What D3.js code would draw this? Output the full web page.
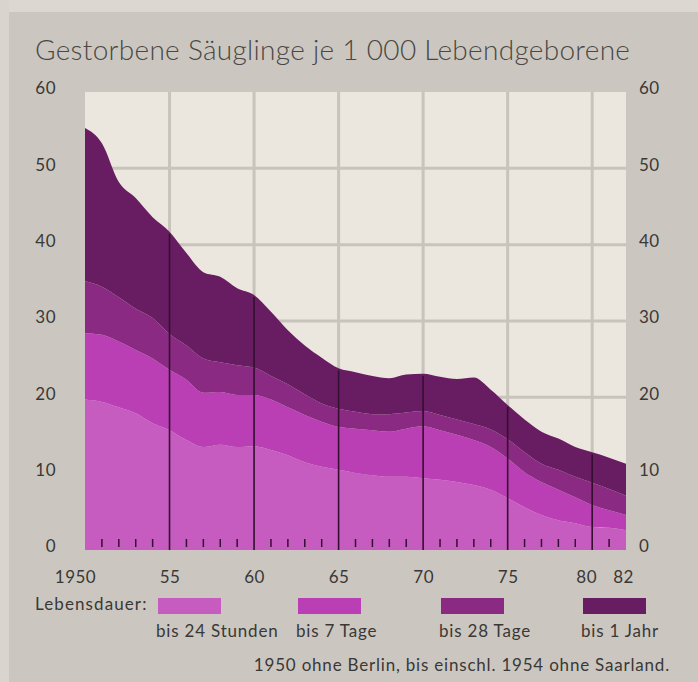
<!DOCTYPE html>
<html>
<head>
<meta charset="utf-8">
<script src="https://cdn.jsdelivr.net/npm/d3@7"></script>
<style>
	body { margin: 0; background: #cbc7c0; }
	svg { display: block; }
	text { font-family: Lato, "Open Sans", sans-serif; fill: #3a3836; }
</style>
</head>
<body>
<svg id="chart" width="698" height="682"></svg>
<script>
// Jahre 1950 - 1982
var years = d3.range(1950, 1983);

// Gestorbene je 1000 Lebendgeborene, kumuliert nach Lebensdauer
var bis24Stunden = [19.7, 19.4, 18.7, 17.9, 16.6, 15.7, 14.4, 13.5, 13.8, 13.5, 13.6, 13.1, 12.4, 11.5, 10.9, 10.5, 10.1,
		9.8, 9.6, 9.6, 9.4, 9.2, 8.9, 8.5, 7.9, 6.8, 5.6, 4.6, 3.9, 3.5, 3.0, 2.9, 2.6];
var bis7Tage = [28.4, 28.2, 27.3, 26.2, 25.1, 23.6, 22.3, 20.6, 20.7, 20.3, 20.3, 19.7, 18.7, 17.7, 16.8, 16.1, 15.9, 15.7,
		15.5, 15.9, 16.2, 15.7, 15.1, 14.4, 13.5, 12.0, 10.2, 8.9, 7.9, 6.9, 5.9, 5.2, 4.6];
var bis28Tage = [35.2, 34.5, 33.1, 31.6, 30.4, 28.3, 26.8, 25.1, 24.6, 24.2, 23.9, 22.8, 21.7, 20.4, 19.2, 18.5, 18.1,
		17.8, 17.8, 18.0, 18.2, 17.7, 17.1, 16.5, 15.8, 14.5, 12.8, 11.3, 10.5, 9.6, 8.8, 8.0, 7.1];
var bis1Jahr = [55.3, 53.3, 48.2, 46.1, 43.6, 41.7, 38.9, 36.4, 35.8, 34.3, 33.4, 31.2, 28.8, 26.8, 25.2, 23.8, 23.3, 22.8,
		22.5, 23.0, 23.1, 22.7, 22.4, 22.6, 21.0, 19.0, 17.1, 15.5, 14.6, 13.5, 12.8, 12.1, 11.3];

var seriesNames = ["bis 24 Stunden", "bis 7 Tage", "bis 28 Tage", "bis 1 Jahr"];
var yTicks = [0, 10, 20, 30, 40, 50, 60];
var xTicks = [1950, 1955, 1960, 1965, 1970, 1975, 1980, 1982];
var xTickLabels = ["1950", "55", "60", "65", "70", "75", "80", "82"];

var colors = ["#c65bc0", "#ba3fb4", "#8a2a83", "#681d62"];

var svg = d3.select("#chart");

// heller Papierrand
svg.append("rect").attr("x", 0).attr("y", 0).attr("width", 698).attr("height", 12).attr("fill", "#dcd8d1");
svg.append("rect").attr("x", 0).attr("y", 0).attr("width", 9).attr("height", 682).attr("fill", "#d9d5ce");

var x = d3.scaleLinear().domain([1950, 1982]).range([85, 626]);
var y = d3.scaleLinear().domain([0, 60]).range([550, 92]);

svg.append("text").attr("x", 35).attr("y", 60).style("font-size", "28px").style("font-weight", 300)
		.style("letter-spacing", "0.3px").style("fill", "#4a4744")
		.text("Gestorbene Säuglinge je 1 000 Lebendgeborene");

// Hintergrund und Gitter
svg.append("rect").attr("x", x(1950)).attr("y", y(60)).attr("width", x(1982) - x(1950)).attr("height", y(0) - y(60))
		.attr("fill", "#ebe6de");

var grid = svg.append("g").attr("stroke", "#c9c4bb").attr("stroke-width", 3);
grid.selectAll("line.h").data([10, 20, 30, 40, 50]).enter().append("line") //
.attr("x1", x(1950)).attr("x2", x(1982)) //
.attr("y1", function(d)
{
	return y(d);
}).attr("y2", function(d)
{
	return y(d);
});
grid.selectAll("line.v").data([1955, 1960, 1965, 1970, 1975, 1980]).enter().append("line") //
.attr("y1", y(0)).attr("y2", y(60)) //
.attr("x1", function(d)
{
	return x(d);
}).attr("x2", function(d)
{
	return x(d);
});

// Flaechen
var layers = [bis24Stunden, bis7Tage, bis28Tage, bis1Jahr];
var area = d3.area().curve(d3.curveMonotoneX).x(function(d)
{
	return x(d.year);
}).y0(function(d)
{
	return y(d.lo);
}).y1(function(d)
{
	return y(d.hi);
});

svg.selectAll("path.layer").data(layers).enter().append("path").attr("class", "layer") //
.attr("fill", function(d, i)
{
	return colors[i];
}).attr("d", function(d, i)
{
	var below = i == 0 ? null : layers[i - 1];
	return area(years.map(function(yr, j)
	{
		return {
			year: yr,
			lo: below == null ? 0 : below[j],
			hi: d[j]
		};
	}));
});

// Jahreslinien und kleine Striche
var marks = svg.append("g").attr("stroke", "#33102f");
marks.selectAll("line.major").data(years.filter(function(d)
{
	return d % 5 == 0 && d > 1950;
})).enter().append("line").attr("stroke-width", 1.6) //
.attr("x1", function(d)
{
	return x(d);
}).attr("x2", function(d)
{
	return x(d);
}).attr("y1", y(0)).attr("y2", function(d)
{
	return y(bis1Jahr[d - 1950]) + 2;
});
marks.selectAll("line.minor").data(years.filter(function(d)
{
	return d % 5 != 0 && d < 1982;
})).enter().append("line").attr("stroke-width", 1.5) //
.attr("x1", function(d)
{
	return x(d);
}).attr("x2", function(d)
{
	return x(d);
}).attr("y1", y(0) - 3).attr("y2", y(0) - 11);

// Achsen
var left = svg.append("g").attr("transform", "translate(59,0)").call(d3.axisLeft(y).tickValues(yTicks).tickSize(0));
var right = svg.append("g").attr("transform", "translate(637,0)").call(
		d3.axisRight(y).tickValues(yTicks).tickSize(0));
[left, right].forEach(function(g)
{
	g.select(".domain").remove();
	g.selectAll("text").style("font-size", "17px").style("font-family", "Lato, sans-serif")
			.style("letter-spacing", "0.5px").attr("fill", "#3a3836").attr("dy", "0.1em");
});
right.selectAll("text").attr("x", 2);

var bottom = svg.append("g").attr("transform", "translate(0,568)").call(
		d3.axisBottom(x).tickValues(xTicks).tickSize(0).tickFormat(function(d, i)
		{
			return xTickLabels[i];
		}));
bottom.select(".domain").remove();
bottom.selectAll("text").style("font-size", "17px").style("font-family", "Lato, sans-serif")
		.style("letter-spacing", "0.5px").attr("fill", "#2e2c2a");
bottom.selectAll(".tick").filter(function(d)
{
	return d == 1950;
}).select("text").attr("x", -10);
bottom.selectAll(".tick").filter(function(d)
{
	return d == 1980;
}).select("text").attr("x", -6);
bottom.selectAll(".tick").filter(function(d)
{
	return d == 1982;
}).select("text").attr("x", -3);

// Legende
svg.append("text").attr("x", 35).attr("y", 610).style("font-size", "17px").style("letter-spacing", "1.1px")
		.text("Lebensdauer:");
var legendX = [158, 298, 441, 583];
var legend = svg.selectAll("g.legend").data(seriesNames).enter().append("g").attr("class", "legend")
		.attr("transform", function(d, i)
		{
			return "translate(" + legendX[i] + ",598)";
		});
legend.append("rect").attr("width", 63).attr("height", 16).attr("fill", function(d, i)
{
	return colors[i];
});
legend.append("text").attr("x", -2).attr("y", 39).style("font-size", "17px").style("letter-spacing", "0.8px")
		.text(function(d)
		{
			return d;
		});

svg.append("text").attr("x", 670).attr("y", 671).attr("text-anchor", "end").style("font-size", "17px")
		.style("letter-spacing", "0.8px").text("1950 ohne Berlin, bis einschl. 1954 ohne Saarland.");
</script>
</body>
</html>
